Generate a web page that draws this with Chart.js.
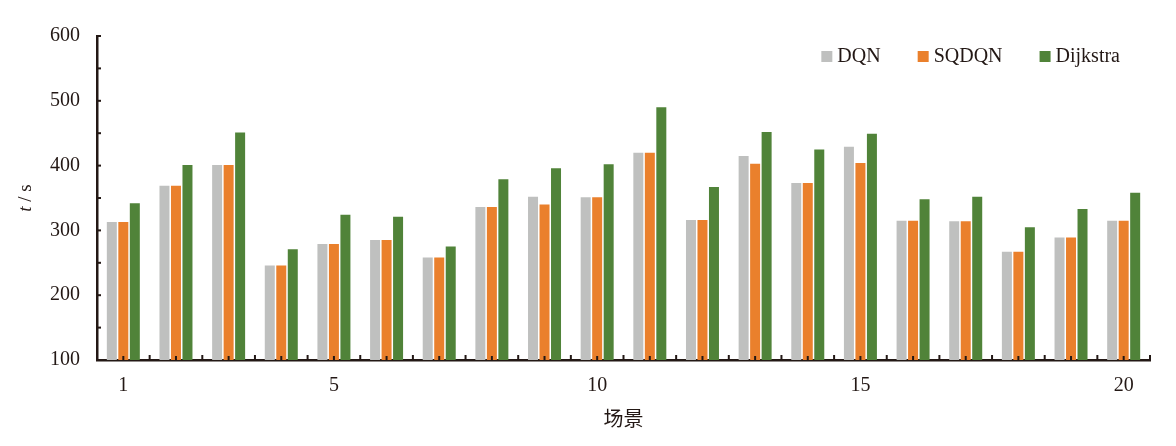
<!DOCTYPE html>
<html>
<head>
<meta charset="utf-8">
<script src="https://cdn.jsdelivr.net/npm/chart.js@4.4.1/dist/chart.umd.min.js"></script>
<style>
  html, body { margin: 0; padding: 0; background: #fff; }
  #wrap { width: 1176px; height: 446px; }
</style>
</head>
<body>
<div id="wrap"><canvas id="chart"></canvas></div>
<script>
// data
const scenes = ["1","2","3","4","5","6","7","8","9","10","11","12","13","14","15","16","17","18","19","20"];
const dqn      = [313, 369, 401, 246, 279, 285, 258, 336, 352, 351, 420, 316, 415, 373, 429, 315, 314, 267, 289, 315];
const sqdqn    = [313, 369, 401, 246, 279, 285, 258, 336, 340, 351, 420, 316, 403, 373, 404, 315, 314, 267, 289, 315];
const dijkstra = [342, 401, 451, 271, 324, 321, 275, 379, 396, 402, 490, 367, 452, 425, 449, 348, 352, 305, 333, 358];
const shownXTicks = ["1", "5", "10", "15", "20"];
const yMin = 100, yMax = 600, yStep = 100;

const axisColor = "#231815";
const serif = '"Liberation Serif", "Times New Roman", serif';

// inward ticks, y title with italic t, and the legend inside the plot
const extras = {
  id: "extras",
  afterDraw(chart) {
    const { ctx, chartArea: area, scales: { x, y } } = chart;
    ctx.save();
    ctx.fillStyle = axisColor;

    for (let v = yMin; v < yMax + 1; v += yStep / 2) {
      const py = y.getPixelForValue(v);
      ctx.fillRect(area.left, py - 1, 4, 2);
    }

    const n = scenes.length;
    for (let i = 0; i < n; i++) {
      const c = x.getPixelForValue(i);
      ctx.fillRect(c - 1, area.bottom - 4, 2, 4);
    }
    for (let i = 0; i <= n; i++) {
      let b;
      if (i === 0) b = area.left;
      else if (i === n) b = area.right;
      else b = (x.getPixelForValue(i - 1) + x.getPixelForValue(i)) / 2;
      ctx.fillRect(b - 1, area.bottom - 5, 2, 5);
    }

    // y title "t / s"
    ctx.save();
    ctx.translate(26, (area.top + area.bottom) / 2);
    ctx.rotate(-Math.PI / 2);
    ctx.textBaseline = "middle";
    const italic = "italic 19px " + serif;
    const normal = "19px " + serif;
    ctx.font = italic;
    const w1 = ctx.measureText("t").width;
    ctx.font = normal;
    const w2 = ctx.measureText(" / s").width;
    let tx = -(w1 + w2) / 2;
    ctx.font = italic;
    ctx.fillText("t", tx, 0);
    ctx.font = normal;
    ctx.fillText(" / s", tx + w1, 0);
    ctx.restore();

    // legend
    ctx.font = "20px " + serif;
    ctx.textBaseline = "middle";
    const items = chart.data.datasets.map(ds => ({
      label: ds.label, color: ds.backgroundColor, w: ctx.measureText(ds.label).width
    }));
    const box = 11, gap = 5, spacing = 37;
    let total = items.reduce((s, it) => s + box + gap + it.w, 0) + spacing * (items.length - 1);
    let lx = area.right - 30 - total;
    const ly = area.top + 21;
    items.forEach(it => {
      ctx.fillStyle = it.color;
      ctx.fillRect(lx, ly - 6, box, box);
      ctx.fillStyle = axisColor;
      ctx.fillText(it.label, lx + box + gap, ly);
      lx += box + gap + it.w + spacing;
    });

    ctx.restore();
  }
};

new Chart(document.getElementById("chart"), {
  type: "bar",
  data: {
    labels: scenes,
    datasets: [
      { label: "DQN", data: dqn, backgroundColor: "#BFC0BF" },
      { label: "SQDQN", data: sqdqn, backgroundColor: "#EA802C" },
      { label: "Dijkstra", data: dijkstra, backgroundColor: "#508339" }
    ]
  },
  options: {
    responsive: true,
    maintainAspectRatio: false,
    devicePixelRatio: 1,
    animation: false,
    categoryPercentage: 0.655,
    barPercentage: 0.87,
    layout: { padding: { left: 0, right: 26, top: 36, bottom: 0 } },
    plugins: {
      legend: { display: false },
      tooltip: { enabled: false }
    },
    scales: {
      x: {
        grid: { display: false, drawTicks: false },
        border: { display: true, color: axisColor, width: 2.5 },
        ticks: {
          color: axisColor,
          font: { family: serif, size: 20 },
          padding: 14,
          autoSkip: false,
          maxRotation: 0,
          callback: function (value) {
            const lab = this.getLabelForValue(value);
            return shownXTicks.includes(lab) ? lab : "";
          }
        },
        title: {
          display: true,
          text: "场景",
          color: axisColor,
          font: { family: '"Noto Sans CJK SC", sans-serif', size: 20 },
          padding: { top: 0, bottom: 16 }
        },
        afterFit(scale) { scale.height = 86; }
      },
      y: {
        min: yMin,
        max: yMax,
        grid: { display: false, drawTicks: false },
        border: { display: true, color: axisColor, width: 2.5 },
        ticks: {
          stepSize: yStep,
          color: axisColor,
          font: { family: serif, size: 20 },
          padding: 17
        },
        afterFit(scale) { scale.width = 97; }
      }
    }
  },
  plugins: [extras]
});
</script>
</body>
</html>
